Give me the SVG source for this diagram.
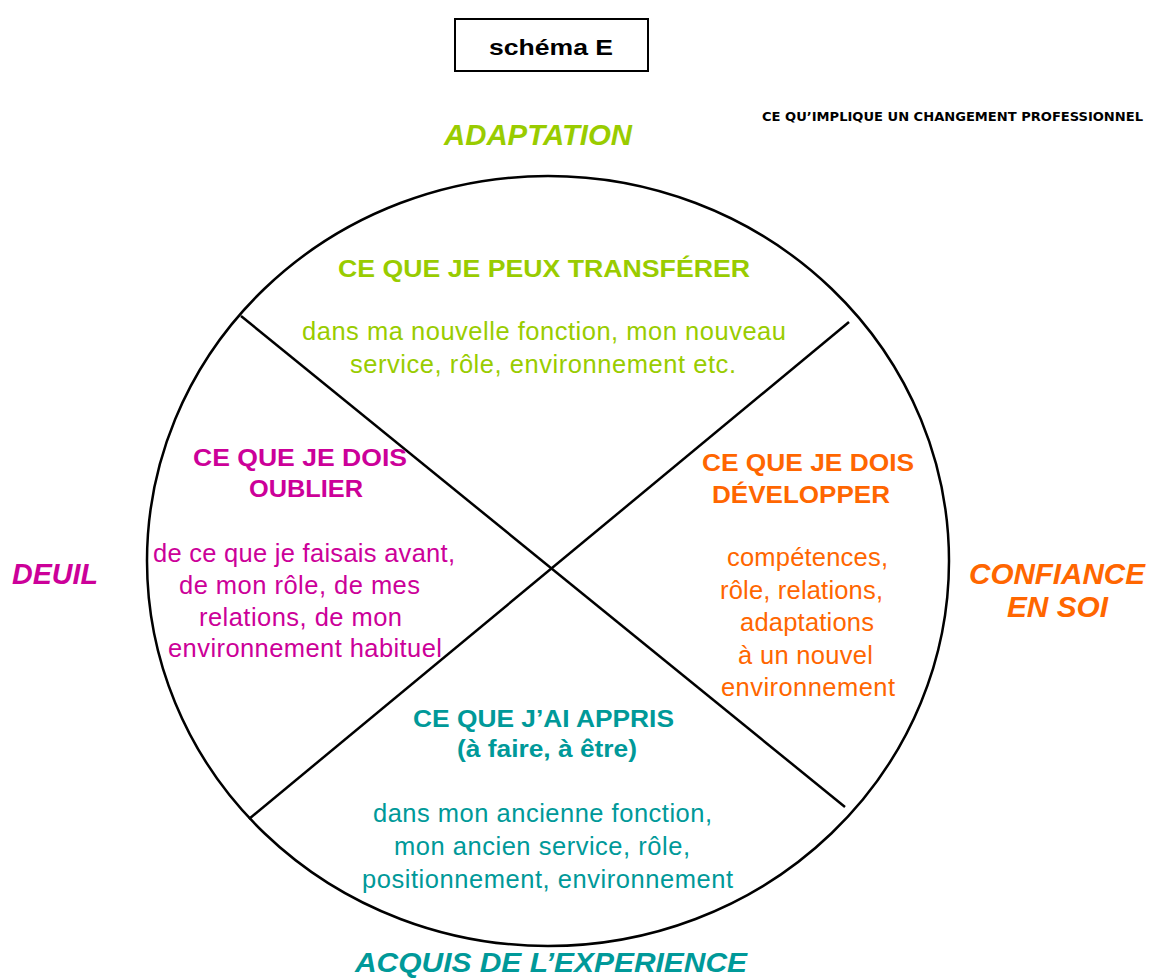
<svg xmlns="http://www.w3.org/2000/svg" width="1151" height="980" viewBox="0 0 1151 980">
<style>
text{font-family:"Liberation Sans",Arial,sans-serif}
.b{font-size:25.5px}
.h{font-size:24px;font-weight:bold}
.o{font-size:30px;font-weight:bold;font-style:italic}
.g{fill:#99cc00}.m{fill:#cc0099}.r{fill:#ff6600}.t{fill:#009999}
.ln{stroke:#000;stroke-width:2.5;fill:none}
</style>
<rect width="1151" height="980" fill="#fff"/>
<g id="title">
<rect x="455" y="19" width="193" height="52" fill="#fff" stroke="#000" stroke-width="2"/>
<text x="489" y="55" font-size="22" font-weight="bold" textLength="124" lengthAdjust="spacingAndGlyphs">schéma E</text>
</g>
<g id="subtitle">
<text x="762" y="121" style="font-family:'DejaVu Sans Condensed','DejaVu Sans',sans-serif" font-size="13" font-weight="bold" textLength="381" lengthAdjust="spacingAndGlyphs">CE QU’IMPLIQUE UN CHANGEMENT PROFESSIONNEL</text>
</g>
<g id="connectors">
<ellipse class="ln" cx="548" cy="561" rx="401" ry="385"/>
<line class="ln" x1="241" y1="316" x2="845" y2="807"/>
<line class="ln" x1="849" y1="322" x2="249" y2="819"/>
</g>
<g id="adaptation">
<text class="o g" x="444" y="145" textLength="188" lengthAdjust="spacingAndGlyphs">ADAPTATION</text>
</g>
<g id="transferer">
<text class="h g" x="338" y="277" textLength="412" lengthAdjust="spacingAndGlyphs">CE QUE JE PEUX TRANSFÉRER</text>
<text class="b g" x="302" y="340" textLength="484" lengthAdjust="spacing">dans ma nouvelle fonction, mon nouveau</text>
<text class="b g" x="350" y="373" textLength="386" lengthAdjust="spacing">service, rôle, environnement etc.</text>
</g>
<g id="oublier">
<text class="h m" x="193" y="466" textLength="214" lengthAdjust="spacingAndGlyphs">CE QUE JE DOIS</text>
<text class="h m" x="249" y="497" textLength="114" lengthAdjust="spacingAndGlyphs">OUBLIER</text>
<text class="b m" x="153" y="562" textLength="302" lengthAdjust="spacing">de ce que je faisais avant,</text>
<text class="b m" x="179" y="594" textLength="241" lengthAdjust="spacing">de mon rôle, de mes</text>
<text class="b m" x="199" y="626" textLength="203" lengthAdjust="spacing">relations, de mon</text>
<text class="b m" x="168" y="657" textLength="274" lengthAdjust="spacing">environnement habituel</text>
</g>
<g id="deuil">
<text class="o m" x="12" y="584" textLength="86" lengthAdjust="spacingAndGlyphs">DEUIL</text>
</g>
<g id="developper">
<text class="h r" x="702" y="471" textLength="212" lengthAdjust="spacingAndGlyphs">CE QUE JE DOIS</text>
<text class="h r" x="712" y="503" textLength="178" lengthAdjust="spacingAndGlyphs">DÉVELOPPER</text>
<text class="b r" x="727" y="566" textLength="161" lengthAdjust="spacing">compétences,</text>
<text class="b r" x="720" y="599" textLength="163" lengthAdjust="spacing">rôle, relations,</text>
<text class="b r" x="740" y="631" textLength="134" lengthAdjust="spacing">adaptations</text>
<text class="b r" x="738" y="664" textLength="135" lengthAdjust="spacing">à un nouvel</text>
<text class="b r" x="721" y="696" textLength="174" lengthAdjust="spacing">environnement</text>
</g>
<g id="confiance">
<text class="o r" x="969" y="584" textLength="176" lengthAdjust="spacingAndGlyphs">CONFIANCE</text>
<text class="o r" x="1007" y="617" textLength="101" lengthAdjust="spacingAndGlyphs">EN SOI</text>
</g>
<g id="appris">
<text class="h t" x="413" y="727" textLength="261" lengthAdjust="spacingAndGlyphs">CE QUE J’AI APPRIS</text>
<text class="h t" x="457" y="757" textLength="180" lengthAdjust="spacingAndGlyphs">(à faire, à être)</text>
<text class="b t" x="373" y="822" textLength="339" lengthAdjust="spacing">dans mon ancienne fonction,</text>
<text class="b t" x="394" y="855" textLength="296" lengthAdjust="spacing">mon ancien service, rôle,</text>
<text class="b t" x="362" y="888" textLength="371" lengthAdjust="spacing">positionnement, environnement</text>
</g>
<g id="acquis">
<text class="o t" x="355" y="972" font-size="28" style="font-size:28px" textLength="392" lengthAdjust="spacingAndGlyphs">ACQUIS DE L’EXPERIENCE</text>
</g>
</svg>
